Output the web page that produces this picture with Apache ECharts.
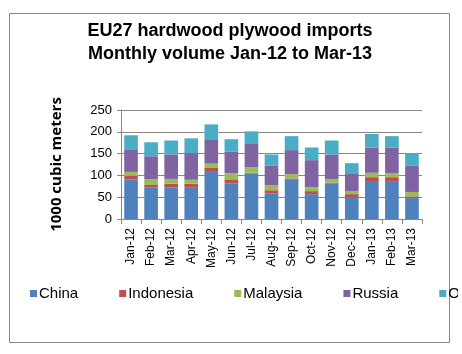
<!DOCTYPE html>
<html>
<head>
<meta charset="utf-8">
<script src="https://cdn.jsdelivr.net/npm/echarts@6/dist/echarts.min.js"></script>
<style>
	html, body { margin: 0; padding: 0; background: #fff; }
	#chart { width: 462px; height: 354px; }
</style>
</head>
<body>
<div id="chart"></div>
<script>
// 月份
var months = ['Jan-12', 'Feb-12', 'Mar-12', 'Apr-12', 'May-12', 'Jun-12', 'Jul-12', 'Aug-12',
	'Sep-12', 'Oct-12', 'Nov-12', 'Dec-12', 'Jan-13', 'Feb-13', 'Mar-13'];
// 各国数据 (1000 m3)
var china = [91, 72, 72, 73, 110, 82, 104, 59, 90, 57, 81, 50, 87, 87, 48];
var indonesia = [8, 6, 9, 8, 7, 9, 2, 7, 3, 7, 2, 7, 9, 9, 4];
var malaysia = [9, 13, 11, 9, 10, 14, 13, 12, 10, 9, 8, 7, 10, 9, 10];
var russia = [52, 53, 56, 61, 56, 50, 53, 45, 55, 62, 57, 41, 58, 59, 60];
var other = [32, 32, 32, 34, 34, 28, 29, 25, 32, 29, 32, 23, 31, 26, 29];
var yTicks = [0, 50, 100, 150, 200, 250];

var myChart = echarts.init(document.getElementById('chart'));

function bar(name, data, color) {
	return {
		name: name,
		type: 'bar',
		stack: 'total',
		barCategoryGap: '32%',
		itemStyle: { color: color },
		data: data
	};
}

var option = {
	animation: false,
	textStyle: { fontFamily: 'Liberation Sans, Arial, sans-serif' },
	title: {
		text: 'EU27 hardwood plywood imports\nMonthly volume Jan-12 to Mar-13',
		left: 225,
		top: 15,
		textAlign: 'center',
		textStyle: {
			fontSize: 18,
			fontWeight: 'bold',
			color: '#000',
			lineHeight: 23,
			fontFamily: 'Liberation Sans, Arial, sans-serif'
		}
	},
	graphic: [{
		type: 'rect',
		shape: { x: 9.5, y: 13.5, width: 440, height: 329 },
		style: { fill: 'none', stroke: '#868686', lineWidth: 1 },
		silent: true
	}, {
		// 图例最后一项被截断
		type: 'rect',
		z: 100,
		shape: { x: 458, y: 278, width: 10, height: 30 },
		style: { fill: '#fff' },
		silent: true
	}],
	legend: {
		left: 25,
		top: 281,
		width: 800,
		itemWidth: 7,
		itemHeight: 7,
		itemGap: 41,
		icon: 'rect',
		textStyle: { fontSize: 15, color: '#000', padding: [0, 0, 0, -3] },
		data: ['China', 'Indonesia', 'Malaysia', 'Russia', 'Other']
	},
	grid: {
		left: 121,
		right: 40,
		top: 110,
		bottom: 135
	},
	xAxis: {
		type: 'category',
		data: months,
		axisLine: { lineStyle: { color: '#868686' } },
		axisTick: { show: true, alignWithLabel: false, length: 5, lineStyle: { color: '#868686' } },
		axisLabel: {
			rotate: 90,
			interval: 0,
			margin: 9,
			fontSize: 12,
			color: '#000'
		}
	},
	yAxis: {
		type: 'value',
		min: yTicks[0],
		max: yTicks[yTicks.length - 1],
		interval: 50,
		name: '1000 cubic meters',
		nameLocation: 'middle',
		nameGap: 57,
		nameTextStyle: {
			fontSize: 15,
			fontWeight: 'bold',
			color: '#000',
			fontFamily: 'Open Sans, sans-serif'
		},
		axisLine: { show: true, lineStyle: { color: '#868686' } },
		axisTick: { show: true, length: 4, lineStyle: { color: '#868686' } },
		axisLabel: { fontSize: 13, color: '#000', margin: 9 },
		splitLine: { lineStyle: { color: '#868686' } }
	},
	series: [
		bar('China', china, '#4F81BD'),
		bar('Indonesia', indonesia, '#C0504D'),
		bar('Malaysia', malaysia, '#9BBB59'),
		bar('Russia', russia, '#8064A2'),
		bar('Other', other, '#4BACC6')
	]
};

myChart.setOption(option);
</script>
</body>
</html>
